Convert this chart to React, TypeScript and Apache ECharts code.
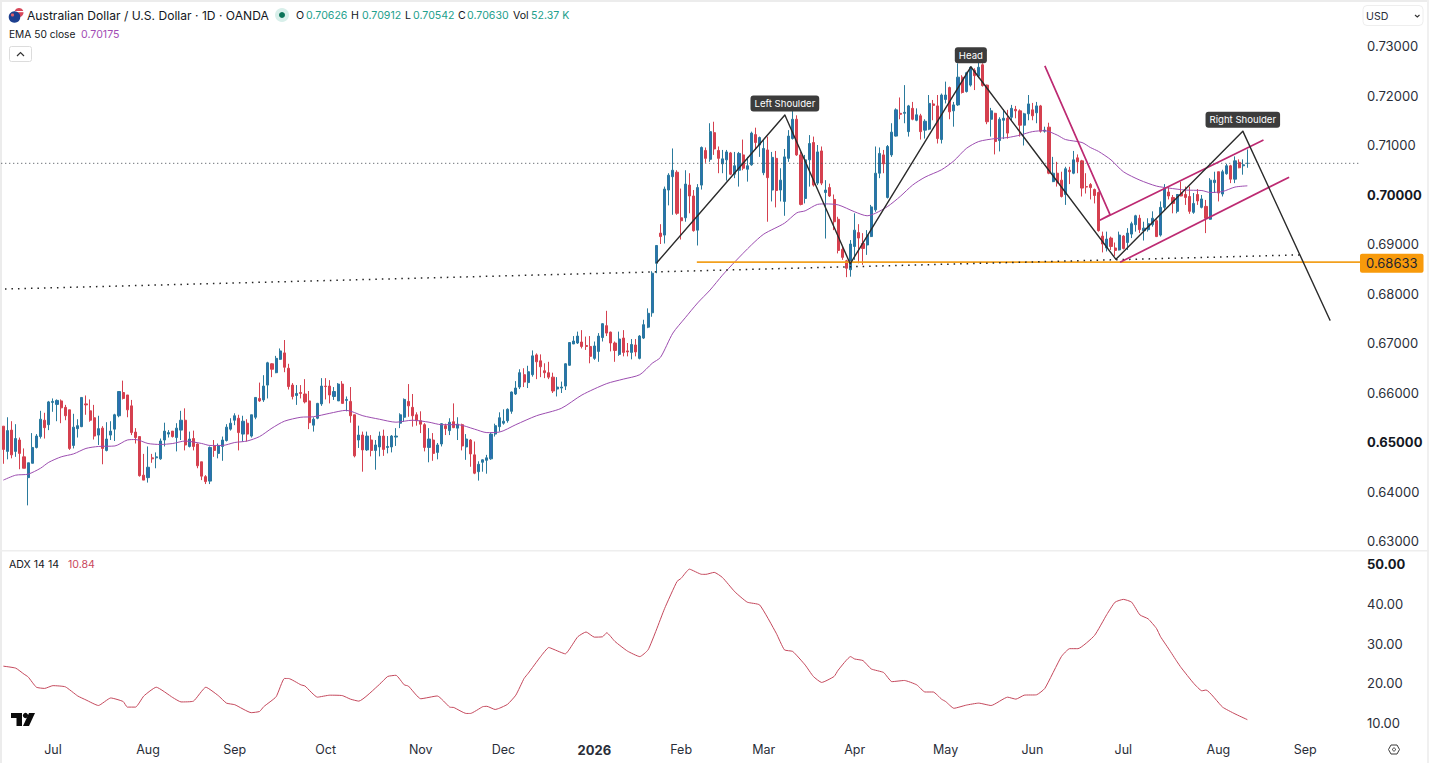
import React, { useEffect, useRef } from "react";
import * as echarts from "echarts";

const FONT = "Inter, 'Noto Sans', sans-serif";
const TEXT = "#2a2e39";

// Daily candles in units of 0.0001: [open, high, low, close]
const ohlc: number[][] = [
  [6532,6532,6456,6485],[6481,6550,6465,6523],[6524,6542,6467,6474],[6481,6536,6470,6507],[6504,6509,6445,6477],
  [6470,6487,6447,6447],[6428,6458,6372,6458],[6457,6518,6457,6489],[6489,6516,6487,6512],[6511,6563,6507,6546],
  [6544,6559,6507,6529],[6535,6583,6524,6581],[6580,6588,6561,6582],[6576,6586,6542,6584],[6583,6586,6538,6569],
  [6570,6575,6544,6553],[6565,6565,6484,6487],[6493,6557,6487,6530],[6527,6546,6509,6533],[6531,6590,6530,6590],
  [6577,6594,6555,6575],[6563,6586,6541,6544],[6549,6575,6505,6512],[6514,6553,6494,6527],[6528,6532,6455,6487],
  [6483,6540,6481,6506],[6514,6542,6504,6522],[6526,6557,6502,6555],[6553,6603,6550,6602],[6600,6624,6586,6588],
  [6595,6595,6550,6565],[6573,6585,6514,6519],[6520,6528,6497,6509],[6511,6511,6430,6432],[6433,6476,6423,6423],
  [6428,6491,6418,6449],[6468,6476,6458,6466],[6468,6479,6447,6470],[6466,6507,6464,6502],[6504,6539,6491,6522],
  [6516,6524,6509,6519],[6522,6522,6509,6511],[6509,6538,6481,6528],[6524,6563,6504,6544],[6544,6568,6483,6494],
  [6491,6521,6489,6506],[6507,6523,6483,6491],[6496,6497,6447,6452],[6460,6460,6423,6431],[6430,6433,6415,6420],
  [6421,6491,6415,6489],[6492,6504,6470,6483],[6477,6497,6467,6493],[6491,6511,6462,6504],[6503,6536,6501,6530],
  [6526,6548,6523,6538],[6544,6558,6534,6553],[6548,6555,6483,6519],[6516,6553,6501,6542],[6538,6546,6501,6516],
  [6512,6555,6509,6555],[6550,6590,6546,6590],[6588,6620,6581,6583],[6585,6635,6581,6613],[6615,6662,6588,6660],
  [6658,6659,6631,6647],[6640,6674,6639,6669],[6667,6689,6666,6684],[6680,6706,6641,6651],[6649,6658,6606,6612],
  [6615,6619,6586,6592],[6594,6615,6575,6598],[6600,6615,6588,6598],[6597,6627,6578,6581],[6583,6603,6526,6539],
  [6534,6550,6521,6546],[6548,6579,6546,6578],[6577,6629,6573,6613],[6613,6629,6586,6612],[6613,6625,6578,6595],
  [6592,6611,6585,6602],[6583,6619,6583,6617],[6617,6623,6578,6578],[6584,6592,6562,6586],[6582,6611,6539,6553],
  [6555,6555,6469,6472],[6504,6533,6488,6514],[6514,6521,6440,6484],[6484,6521,6482,6512],[6504,6514,6471,6483],
  [6483,6504,6444,6494],[6490,6521,6471,6512],[6512,6525,6472,6485],[6489,6512,6477,6491],[6490,6514,6479,6512],
  [6510,6528,6492,6512],[6538,6558,6528,6555],[6550,6588,6541,6586],[6582,6617,6551,6573],[6570,6597,6531,6553],
  [6555,6560,6533,6543],[6543,6562,6518,6536],[6535,6538,6481,6489],[6489,6528,6459,6506],[6504,6518,6462,6477],
  [6479,6498,6465,6494],[6496,6538,6491,6537],[6533,6537,6514,6527],[6523,6548,6514,6540],[6541,6578,6528,6529],
  [6528,6550,6504,6536],[6535,6537,6483,6492],[6490,6516,6464,6506],[6504,6506,6450,6476],[6474,6501,6435,6437],
  [6440,6461,6422,6455],[6459,6465,6440,6464],[6463,6474,6436,6468],[6466,6518,6464,6516],[6516,6537,6511,6533],
  [6531,6560,6521,6549],[6538,6566,6535,6542],[6543,6568,6539,6566],[6562,6602,6557,6601],[6597,6623,6595,6609],
  [6611,6647,6607,6640],[6636,6649,6611,6621],[6620,6654,6609,6642],[6636,6685,6632,6674],[6676,6679,6627,6662],
  [6664,6677,6631,6652],[6644,6659,6629,6640],[6640,6662,6627,6631],[6631,6640,6599,6603],[6607,6631,6592,6611],
  [6609,6622,6599,6611],[6613,6659,6605,6658],[6655,6702,6654,6701],[6698,6714,6698,6704],[6700,6723,6698,6714],
  [6702,6726,6689,6693],[6695,6713,6686,6693],[6693,6714,6659,6673],[6669,6703,6666,6694],[6683,6720,6662,6714],
  [6711,6740,6703,6739],[6735,6765,6714,6720],[6722,6723,6683,6700],[6700,6703,6662,6685],[6677,6723,6674,6708],
  [6710,6726,6673,6681],[6684,6700,6673,6682],[6681,6708,6667,6697],[6696,6708,6673,6682],[6669,6716,6667,6714],
  [6710,6747,6708,6737],[6732,6770,6730,6760],[6761,6845,6753,6841],[6861,6898,6841,6897],[6922,6940,6900,6915],
  [6918,7016,6901,7011],[7009,7043,6978,7039],[7036,7093,6959,7049],[7045,7049,6959,6962],[6953,7012,6909,6947],
  [6953,7049,6945,7021],[7019,7043,6962,6997],[6997,7009,6925,6927],[6928,7021,6897,7014],[7019,7097,7010,7095],
  [7089,7095,7064,7073],[7071,7144,7066,7127],[7125,7147,7080,7092],[7089,7097,7043,7073],[7062,7090,7043,7072],
  [7070,7090,7028,7086],[7084,7086,7039,7041],[7041,7086,7033,7058],[7049,7086,7016,7083],[7080,7111,7049,7053],
  [7051,7076,7026,7058],[7060,7127,7058,7124],[7121,7135,7090,7105],[7100,7117,7076,7115],[7044,7110,7039,7093],
  [7090,7117,6945,7034],[7009,7086,6986,7075],[7073,7088,6974,7008],[7009,7053,6986,7029],[6986,7092,6957,7076],
  [7073,7130,7066,7118],[7113,7181,7111,7152],[7152,7160,7078,7080],[7080,7086,6978,6980],[6992,7080,6982,7070],
  [7070,7120,7016,7103],[7105,7117,7016,7019],[7023,7100,7019,7086],[7088,7097,7019,7023],[7004,7029,6911,7009],
  [7014,7022,6995,6997],[6990,7000,6928,6945],[6950,6955,6881,6887],[6889,6895,6868,6873],[6866,6868,6833,6851],
  [6848,6908,6834,6900],[6895,6962,6868,6928],[6923,6940,6861,6912],[6901,6922,6858,6891],[6898,6928,6878,6918],
  [6915,6979,6914,6975],[6969,7097,6965,7043],[7043,7095,7033,7083],[7080,7090,7043,7062],[6994,7100,6992,7097],
  [7080,7144,7076,7126],[7118,7174,7117,7171],[7164,7196,7152,7162],[7164,7221,7144,7166],[7127,7181,7117,7179],
  [7174,7187,7150,7152],[7150,7174,7148,7161],[7159,7163,7111,7127],[7130,7152,7113,7148],[7132,7201,7130,7184],
  [7183,7191,7150,7180],[7179,7201,7103,7113],[7111,7204,7103,7201],[7192,7228,7184,7201],[7216,7218,7152,7167],
  [7169,7187,7137,7181],[7181,7265,7179,7237],[7237,7241,7204,7206],[7208,7248,7206,7246],[7221,7258,7218,7257],
  [7251,7255,7211,7240],[7239,7268,7235,7257],[7262,7265,7218,7220],[7221,7222,7142,7147],[7152,7175,7117,7169],
  [7164,7165,7081,7107],[7109,7156,7087,7152],[7150,7172,7112,7154],[7154,7171,7113,7124],[7156,7181,7150,7174],
  [7172,7179,7154,7169],[7169,7172,7117,7140],[7140,7165,7099,7163],[7163,7201,7150,7183],[7171,7185,7150,7159],
  [7165,7187,7144,7179],[7179,7181,7125,7128],[7128,7137,7125,7130],[7136,7145,7041,7043],[7026,7076,7025,7043],
  [7043,7066,7016,7023],[7029,7046,6994,6996],[7000,7056,6979,7052],[7049,7056,7021,7046],[7043,7088,7041,7070],
  [7074,7081,7043,7066],[7068,7070,6996,7013],[7016,7043,7002,7015],[7020,7023,6990,7014],[7010,7012,6982,6998],
  [7004,7006,6925,6927],[6916,6925,6883,6900],[6892,6925,6885,6910],[6912,6915,6888,6895],[6892,6903,6876,6887],
  [6888,6925,6887,6918],[6916,6918,6889,6891],[6903,6932,6888,6922],[6920,6945,6912,6941],[6939,6959,6925,6957],
  [6952,6959,6922,6929],[6927,6945,6907,6932],[6929,6952,6925,6941],[6939,6966,6935,6952],[6947,6950,6914,6915],
  [6918,6986,6915,6974],[6974,7021,6969,7013],[7005,7016,6990,6997],[6994,6999,6962,6982],[6966,7001,6962,7000],
  [7003,7026,6996,6997],[7000,7016,6979,6994],[6996,7016,6961,6966],[6964,7003,6961,6982],[7000,7011,6979,6987],
  [6974,6999,6972,6991],[6976,6989,6922,6952],[6950,7033,6949,7029],[7024,7046,7003,7029],[7046,7046,6986,7003],
  [7001,7050,6996,7046],[7042,7062,7040,7058],[7058,7060,7023,7031],[7031,7077,7023,7068],[7065,7071,7053,7054],
  [7058,7071,7040,7060],[7063,7091,7054,7063],
];

// EMA 50: trading-day index and value (0.0001 units)
const emaDay = [0,3,6,9,11,14,17,20,23,27,30,32,35,38,41,44,48,50,53,56,59,62,65,68,72,75,79,83,87,91,95,99,103,106,110,114,117,120,124,129,135,140,146,150,154,157,159,162,165,168,171,174,177,181,184,189,192,194,197,199,202,206,209,211,214,217,220,223,227,230,233,236,240,243,246,249,252,255,257,261,263,265,268,271,275,279,282,286,290,292,295,298,301];
const emaVal = [6423,6433,6435,6447,6459,6470,6476,6487,6491,6492,6504,6505,6497,6495,6497,6502,6497,6493,6493,6499,6502,6511,6528,6542,6550,6551,6558,6564,6553,6546,6540,6544,6540,6535,6535,6526,6519,6520,6535,6553,6568,6595,6618,6627,6636,6659,6671,6720,6751,6781,6807,6837,6864,6898,6920,6942,6963,6967,6980,6981,6979,6965,6957,6962,6976,6996,7019,7035,7050,7068,7093,7107,7113,7115,7120,7127,7129,7120,7111,7105,7095,7087,7070,7046,7029,7017,7013,7009,7008,7004,7006,7015,7017.5];

// ADX 14 14: trading-day index and value
const adxDay = [0,3,5,6,8,10,12,15,18,20,23,26,29,30,32,34,37,41,43,46,49,52,54,56,60,62,63,66,68,69,72,73,76,79,82,84,86,91,93,95,97,98,101,105,108,109,112,113,116,117,119,120,122,124,126,127,130,132,133,136,137,139,141,143,145,146,148,151,154,156,158,160,163,164,166,169,170,172,174,177,180,183,187,189,191,194,196,198,201,202,205,206,208,210,213,215,218,221,223,225,227,228,230,233,236,239,243,245,247,250,252,256,258,260,264,267,269,271,273,275,277,279,280,282,284,285,288,290,291,295,298,301];
const adxVal = [24.3,23.8,22.3,21.6,19.0,18.7,19.4,19.1,16.8,15.8,14.4,16.3,15.4,14.0,14.0,16.8,19.0,16.4,15.3,15.5,19.0,16.9,15.0,14.6,12.6,12.9,14.1,16.6,21.2,21.2,19.6,19.3,16.5,17.0,16.9,16.0,15.5,19.7,21.7,22.0,19.6,19.3,16.1,16.8,14.0,13.9,12.4,12.4,14.1,14.2,13.4,13.7,14.7,17.0,21.2,22.5,26.7,29.0,28.6,27.4,28.6,31.7,32.9,31.6,31.7,32.7,30.5,28.1,26.7,28.4,33.4,38.8,45.6,46.4,48.7,47.4,47.4,47.9,46.6,43.0,40.4,39.7,32.6,28.4,28.0,24.6,21.7,20.2,21.7,23.3,26.7,26.1,25.7,23.6,22.7,20.4,20.7,19.6,17.8,17.8,16.0,15.4,13.7,14.5,15.0,14.4,16.5,16.0,17.0,17.1,18.7,26.7,28.7,28.7,32.0,37.3,40.4,41.1,40.4,37.2,36.2,33.8,31.7,28.6,25.4,23.9,20.0,18.1,18.3,14.0,12.3,10.84];

// Month labels of the time axis and the trading-day slot they sit on
const monthLabels = ["Jul","Aug","Sep","Oct","Nov","Dec","2026","Feb","Mar","Apr","May","Jun","Jul","Aug","Sep"];
const monthDays = [12,35,56,78,101,121,143,164,184,206,228,249,271,294,315];
const SLOTS = 329;

const lastClose = 0.7063;
const neckline = 0.68633;

// Drawn studies: trading-day index, price
const trendDay = [158.1,189.1,204.9,234.1,269.2,299.9,321];
const trendPrice = [0.6862,0.71606,0.686,0.7258,0.6869,0.7128,0.6746];
const trendNames: Record<number,string> = { 1: "Left Shoulder", 3: "Head", 5: "Right Shoulder" };
const dotTrendDay = [0.4,313.7];
const dotTrendPrice = [0.6809,0.6878];
const pinkDay = [252,267.8,265.3,304.9];
const pinkPrice = [0.726,0.6959,0.6948,0.711];
const pinkLowDay = [270.2,311.1];
const pinkLowPrice = [0.6863,0.7035];
const necklineDay = [167.8,328.5];

const candleData = ohlc.map(([o,h,l,c]) => [o/1e4,c/1e4,l/1e4,h/1e4]);
const categories = Array.from({ length: SLOTS }, (_, i) => {
  const k = monthDays.indexOf(i);
  return k >= 0 ? monthLabels[k] : "";
});
const pairs = (xs: number[], ys: number[]) => xs.map((x, i) => [x, ys[i]]);

const plainLine = (data: any[], color: string, width: number, type: any = "solid", extra: any = {}) => ({
  type: "line", xAxisIndex: 2, yAxisIndex: 0, data, symbol: "none", silent: true,
  lineStyle: { color, width, type }, ...extra,
});

const txt = (text: string, x: number, y: number, fill: string, size = 11, extra: any = {}) => ({
  type: "text", x, y, silent: true,
  style: { text, fill, font: `${size}px ${FONT}`, textVerticalAlign: "middle", verticalAlign: "middle", ...extra },
});

const ohlcHeader = [["O",296,"0.70626",306],["H",351,"0.70912",362],["L",405,"0.70542",413],["C",458,"0.70630",467]] as const;

export default function App() {
  const ref = useRef<HTMLDivElement>(null);
  useEffect(() => {
    document.body.style.margin = "0";
    const chart = echarts.init(ref.current!, undefined, { renderer: "svg" });
    const green = "#22a08c";
    chart.setOption({
      animation: false,
      backgroundColor: "#ffffff",
      textStyle: { fontFamily: FONT },
      grid: [
        { left: 1.25, width: 1359.76, top: 1.45, height: 539.55 },
        { left: 1.25, width: 1359.76, top: 564, height: 159 },
      ],
      xAxis: [
        { type: "category", gridIndex: 0, data: categories, boundaryGap: true, show: false },
        { type: "category", gridIndex: 1, data: categories, boundaryGap: true, axisLine: { show: false }, axisTick: { show: false },
          axisLabel: { interval: (_: number, v: string) => v !== "", margin: 20, fontSize: 12.5, color: TEXT, fontFamily: FONT, hideOverlap: false,
            formatter: (v: string) => (v === "2026" ? `{b|${v}}` : v),
            rich: { b: { fontWeight: "bold", fontSize: 13, color: TEXT, fontFamily: FONT } } } },
        { type: "value", gridIndex: 0, min: -0.5, max: 328.5, show: false },
        { type: "value", gridIndex: 1, min: -0.5, max: 328.5, show: false },
      ],
      yAxis: [
        { type: "value", gridIndex: 0, position: "right", min: 0.63, max: 0.739, interval: 0.01, splitLine: { show: false }, axisLine: { show: false, onZero: false }, axisTick: { show: false },
          axisLabel: { show: true, margin: 6, fontSize: 13, color: TEXT, fontFamily: FONT,
            formatter: (v: number) => {
              if (Math.abs(v * 100 - Math.round(v * 100)) > 1e-6) return "";
              const s = v.toFixed(5);
              return s === "0.70000" || s === "0.65000" ? `{b|${s}}` : s;
            },
            rich: { b: { fontWeight: "bold", fontSize: 13, color: "#131722", fontFamily: FONT } } } },
        { type: "value", gridIndex: 1, position: "right", min: 10, max: 50, interval: 10, splitLine: { show: false }, axisLine: { show: false, onZero: false }, axisTick: { show: false },
          axisLabel: { margin: 6, fontSize: 13, color: TEXT, fontFamily: FONT,
            formatter: (v: number) => (v === 50 ? `{b|${v.toFixed(2)}}` : v.toFixed(2)),
            rich: { b: { fontWeight: "bold", fontSize: 13, color: "#131722", fontFamily: FONT } } } },
      ],
      series: [
        plainLine([[-0.5,lastClose],[328.5,lastClose]], "#3f444d", 1, [1,3]),
        { type: "candlestick", xAxisIndex: 0, yAxisIndex: 0, data: candleData, barWidth: 2.6, silent: true,
          itemStyle: { color: "#2a6fb2", color0: "#d5404f", borderColor: "#2a7a9c", borderColor0: "#d5404f", borderWidth: 1 } },
        plainLine(pairs(emaDay, emaVal.map(v => v/1e4)), "#9c4db0", 1, "solid", { smooth: 0.25 }),
        plainLine(pairs(necklineDay, [neckline, neckline]), "#f2a01e", 1.6, "solid", {
          endLabel: { show: true, formatter: neckline.toFixed(5), distance: 0, fontSize: 13, color: "#1f2430", fontFamily: FONT,
            backgroundColor: "#f89a0b", padding: [3,6], borderRadius: 2, offset: [-1, 1] },
        }),
        plainLine(pairs(dotTrendDay, dotTrendPrice), "#222222", 1.5, [1.5,5]),
        plainLine(pairs(pinkDay, pinkPrice), "#bd2a72", 1.7),
        plainLine(pairs(pinkLowDay, pinkLowPrice), "#bd2a72", 1.7),
        { type: "line", xAxisIndex: 2, yAxisIndex: 0, silent: true, symbol: "circle", symbolSize: 1, showAllSymbol: true,
          lineStyle: { color: "#2b2b2b", width: 1.4 }, itemStyle: { color: "#2b2b2b" },
          data: trendDay.map((d, i) => ({ value: [d, trendPrice[i]],
            label: trendNames[i] ? { show: true, position: "top", distance: 3, formatter: trendNames[i], color: "#ffffff", fontSize: 9.6, fontFamily: FONT,
              backgroundColor: "#3c3c3c", padding: [3,4], borderRadius: 3 } : { show: false } })) },
        { type: "line", xAxisIndex: 3, yAxisIndex: 1, data: pairs(adxDay, adxVal), symbol: "none", silent: true, smooth: 0.15, lineStyle: { color: "#c4485c", width: 1 } },
      ],
      graphic: [
        { type: "rect", silent: true, shape: { x: 0, y: 0, width: 1429, height: 2 }, style: { fill: "#ececec" } },
        { type: "rect", silent: true, shape: { x: 0, y: 0, width: 2, height: 763 }, style: { fill: "#ececec" } },
        { type: "rect", silent: true, shape: { x: 1427, y: 0, width: 2, height: 763 }, style: { fill: "#f0f0f0" } },
        { type: "rect", silent: true, shape: { x: 0, y: 550, width: 1429, height: 1.5 }, style: { fill: "#eeeeee" } },
        // flag
        { type: "circle", silent: true, shape: { cx: 19, cy: 12.5, r: 4.5 }, style: { fill: "#d8485a" } },
        { type: "rect", silent: true, shape: { x: 15, y: 11, width: 9, height: 1.2 }, style: { fill: "#ffffff" } },
        { type: "circle", silent: true, shape: { cx: 14.5, cy: 17, r: 5.8 }, style: { fill: "#1d3f8f" } },
        { type: "circle", silent: true, shape: { cx: 12.5, cy: 15, r: 1.6 }, style: { fill: "#e0606a" } },
        txt("Australian Dollar / U.S. Dollar · 1D · OANDA", 27, 15.5, "#131722", 12.1),
        { type: "circle", silent: true, shape: { cx: 282, cy: 15, r: 7 }, style: { fill: "#d8efea" } },
        { type: "circle", silent: true, shape: { cx: 282, cy: 15, r: 3 }, style: { fill: "#0b7358" } },
        ...ohlcHeader.flatMap(([k, kx, v, vx]) => [txt(k, kx, 15.5, "#131722", 10.6), txt(v, vx, 15.5, green, 10.6)]),
        txt("Vol", 513, 15.5, "#131722", 10.6),
        txt("52.37 K", 531, 15.5, green, 10.6),
        txt("EMA 50 close", 9, 34, "#131722", 10.2),
        txt("0.70175", 81, 34, "#a24db5", 10.6),
        { type: "rect", silent: true, shape: { x: 9.5, y: 46.5, width: 22, height: 15, r: 2 }, style: { fill: "#ffffff", stroke: "#dcdcdc", lineWidth: 1 } },
        { type: "polyline", silent: true, shape: { points: [[17,56],[20.5,52.5],[24,56]] }, style: { fill: "none", stroke: "#333333", lineWidth: 1.2 } },
        { type: "rect", silent: true, shape: { x: 1363, y: 5.5, width: 60, height: 20, r: 4 }, style: { fill: "#ffffff", stroke: "#eeeeee", lineWidth: 1 } },
        txt("USD", 1366, 16, "#2a2e39", 10.6),
        { type: "polyline", silent: true, shape: { points: [[1415,15],[1417.3,17],[1419.5,15]] }, style: { fill: "none", stroke: "#333333", lineWidth: 1.1 } },
        txt("ADX 14 14", 9, 564, "#131722", 10.6),
        txt("10.84", 68, 564, "#c9485c", 10.6),
        // TradingView mark
        { type: "polygon", silent: true, shape: { points: [[11,713],[22,713],[22,726],[16.5,726],[16.5,718],[11,718]] }, style: { fill: "#0b0b0b" } },
        { type: "circle", silent: true, shape: { cx: 25.5, cy: 715.5, r: 2.6 }, style: { fill: "#0b0b0b" } },
        { type: "polygon", silent: true, shape: { points: [[29,713],[35,713],[29,726],[23,726]] }, style: { fill: "#0b0b0b" } },
        // settings glyph
        { type: "polygon", silent: true, shape: { points: [[1391,745],[1397,745],[1399.5,749.5],[1397,754],[1391,754],[1388.5,749.5]] }, style: { fill: "none", stroke: "#3a3a3a", lineWidth: 1 } },
        { type: "circle", silent: true, shape: { cx: 1394, cy: 749.5, r: 1.5 }, style: { fill: "none", stroke: "#3a3a3a", lineWidth: 1 } },
      ],
    });
    return () => chart.dispose();
  }, []);
  return <div ref={ref} style={{ position: "absolute", left: 0, top: 0, width: 1429, height: 763, background: "#fff" }} />;
}
